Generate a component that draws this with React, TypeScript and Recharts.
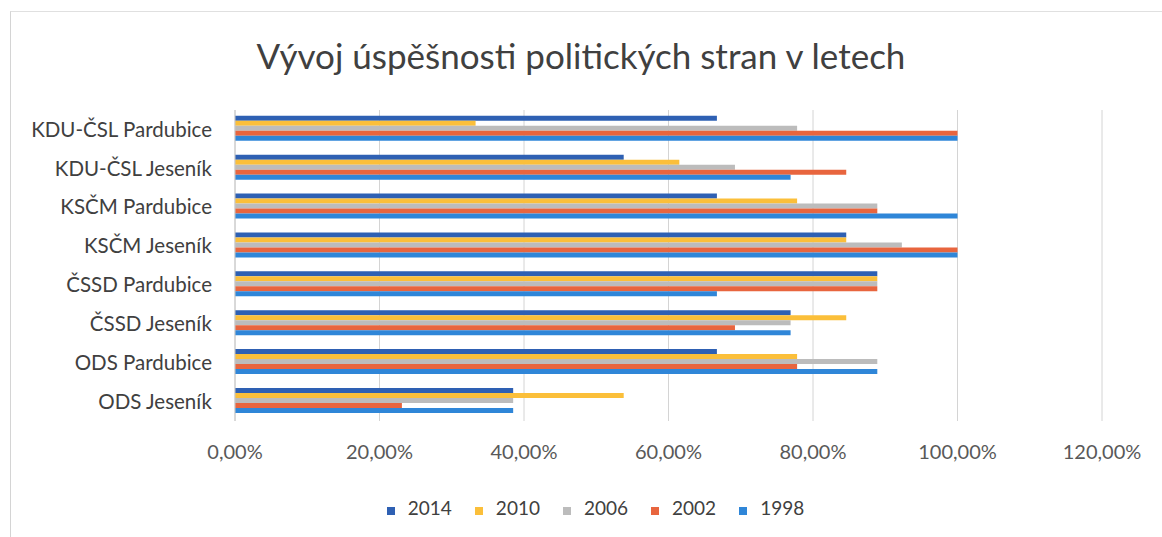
import React from "react"
import { BarChart, Bar, XAxis, YAxis, CartesianGrid, Legend } from "recharts"

const categories = [
  "KDU-ČSL Pardubice",
  "KDU-ČSL Jeseník",
  "KSČM Pardubice",
  "KSČM Jeseník",
  "ČSSD Pardubice",
  "ČSSD Jeseník",
  "ODS Pardubice",
  "ODS Jeseník",
]

const years = ["2014", "2010", "2006", "2002", "1998"]

const s2014 = [66.7, 53.8, 66.7, 84.6, 88.9, 76.9, 66.7, 38.5]
const s2010 = [33.3, 61.5, 77.8, 84.6, 88.9, 84.6, 77.8, 53.8]
const s2006 = [77.8, 69.2, 88.9, 92.3, 88.9, 76.9, 88.9, 38.5]
const s2002 = [100, 84.6, 88.9, 100, 88.9, 69.2, 77.8, 23.1]
const s1998 = [100, 76.9, 100, 100, 66.7, 76.9, 88.9, 38.5]

const xTicks = [0, 20, 40, 60, 80, 100, 120]

const colors: Record<string, string> = {
  "2014": "#2e60b3",
  "2010": "#fbbf3a",
  "2006": "#bcbcbc",
  "2002": "#e8653e",
  "1998": "#2f86d8",
}

const data = categories.map((name, i) => ({
  name,
  "2014": s2014[i],
  "2010": s2010[i],
  "2006": s2006[i],
  "2002": s2002[i],
  "1998": s1998[i],
}))

const font = "Lato, 'Open Sans', sans-serif"

export default function App() {
  return (
    <div style={{ position: "absolute", left: 0, top: 0, width: 1162, height: 537, background: "#fff", fontFamily: font }}>
      <div style={{ position: "absolute", left: 10, top: 11, right: 0, bottom: 0, borderLeft: "1px solid #d4d4d4", borderTop: "1px solid #e0e0e0" }} />
      <div style={{ position: "absolute", left: 0, top: 34, width: 1162, textAlign: "center", fontSize: 35, color: "#404040" }}>
        Vývoj úspěšnosti politických stran v letech
      </div>
      <BarChart
        width={1162}
        height={537}
        data={data}
        layout="vertical"
        margin={{ top: 110, right: 60, bottom: 18, left: 0 }}
        barCategoryGap="15%"
        barGap={0}
      >
        <CartesianGrid horizontal={false} stroke="#d4d4d4" />
        <XAxis
          type="number"
          domain={[0, 120]}
          ticks={xTicks}
          tickFormatter={(v: number) => v.toFixed(2).replace(".", ",") + "%"}
          axisLine={false}
          tickLine={false}
          tickSize={0}
          tickMargin={24}
          height={75}
          tick={{ fontSize: 20, fill: "#595959", fontFamily: font }}
        />
        <YAxis
          type="category"
          dataKey="name"
          width={235}
          axisLine={{ stroke: "#c8c8c8" }}
          tickLine={false}
          tickSize={0}
          tickMargin={23}
          tick={{ fontSize: 20.5, fill: "#404040", fontFamily: font }}
        />
        <Legend
          verticalAlign="bottom"
          iconType="square"
          iconSize={8}
          itemSorter={(item: any) => years.indexOf(String(item.value))}
          wrapperStyle={{ left: 56 }}
          formatter={(value: string) => (
            <span style={{ color: "#404040", fontSize: 19, paddingLeft: 9, paddingRight: 13 }}>{value}</span>
          )}
        />
        {years.map((y) => (
          <Bar key={y} dataKey={y} fill={colors[y]} isAnimationActive={false} />
        ))}
      </BarChart>
    </div>
  )
}
